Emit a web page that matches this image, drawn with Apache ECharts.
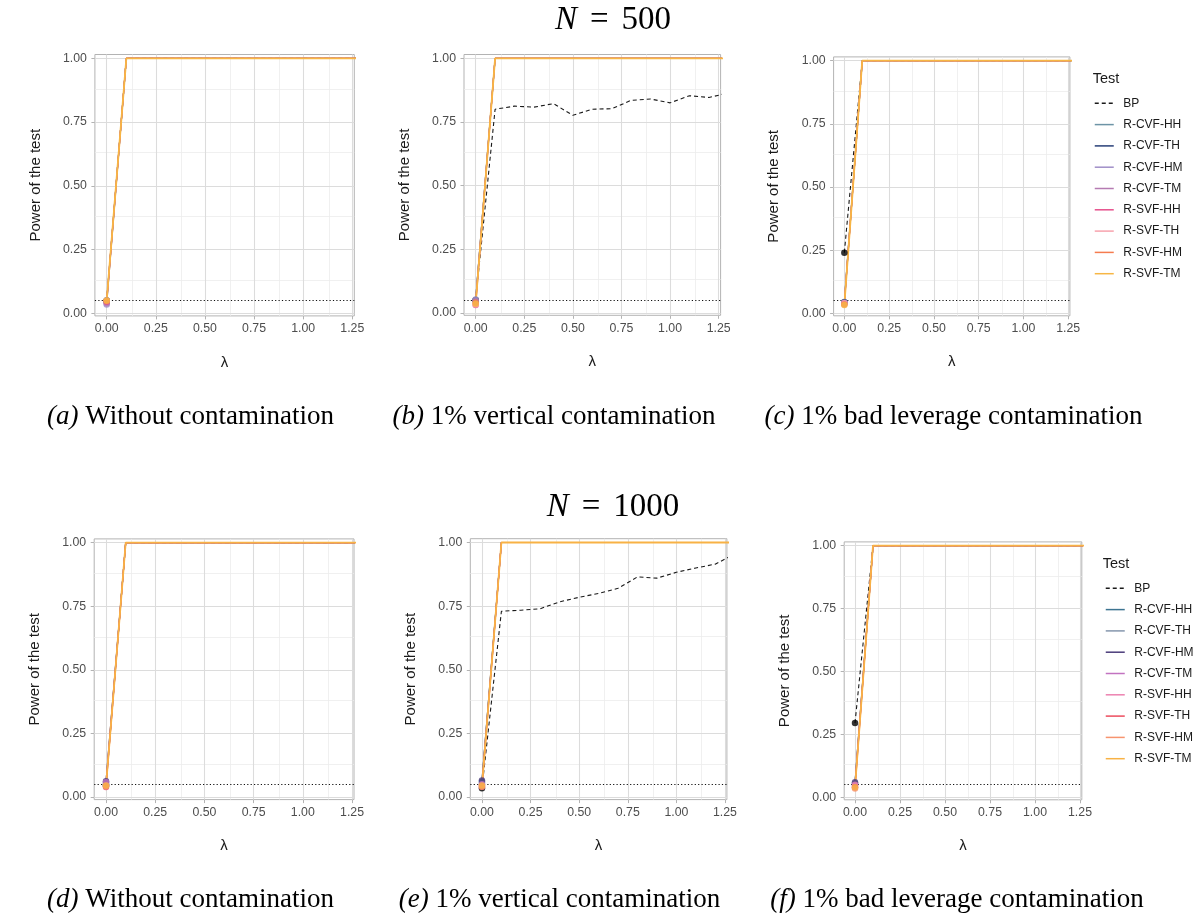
<!DOCTYPE html>
<html>
<head>
<meta charset="utf-8">
<script src="https://cdn.jsdelivr.net/npm/echarts@6/dist/echarts.min.js"></script>
<style>
  html, body { margin: 0; padding: 0; background: #ffffff; }
  #chart { width: 1196px; height: 920px; }
</style>
</head>
<body>
<div id="chart"></div>
<script>
// ---- data -------------------------------------------------------------
const lambda = [0, 0.1, 0.2, 0.3, 0.4, 0.5, 0.6, 0.7, 0.8, 0.9, 1.0, 1.1, 1.2, 1.3];

const testNames = ['BP', 'R-CVF-HH', 'R-CVF-TH', 'R-CVF-HM', 'R-CVF-TM',
                   'R-SVF-HH', 'R-SVF-TH', 'R-SVF-HM', 'R-SVF-TM'];

const colors500  = ['#1a1a1a', '#6d94a6', '#283f78', '#a08fc8', '#b57bb2',
                    '#e6508c', '#f7a2ad', '#f57c4f', '#f7b644'];
const colors1000 = ['#1a1a1a', '#3d7491', '#8597ad', '#4a3b7a', '#c273c0',
                    '#ec82b0', '#ec4c5e', '#f7946f', '#f8b245'];

// Breusch-Pagan test power along lambda
const bp500None  = [0.05, 1.00, 1.00, 1.00, 1.00, 1.00, 1.00, 1.00, 1.00, 1.00, 1.00, 1.00, 1.00, 1.00];
const bp500Vert  = [0.05, 0.800, 0.812, 0.808, 0.822, 0.776, 0.800, 0.802, 0.835, 0.840, 0.825, 0.853, 0.846, 0.864];
const bp500Lev   = [0.24, 1.00, 1.00, 1.00, 1.00, 1.00, 1.00, 1.00, 1.00, 1.00, 1.00, 1.00, 1.00, 1.00];
const bp1000None = [0.045, 1.00, 1.00, 1.00, 1.00, 1.00, 1.00, 1.00, 1.00, 1.00, 1.00, 1.00, 1.00, 1.00];
const bp1000Vert = [0.035, 0.730, 0.734, 0.740, 0.767, 0.785, 0.800, 0.820, 0.865, 0.860, 0.883, 0.900, 0.915, 0.955];
const bp1000Lev  = [0.295, 1.00, 1.00, 1.00, 1.00, 1.00, 1.00, 1.00, 1.00, 1.00, 1.00, 1.00, 1.00, 1.00];

// Robust tests: empirical size at lambda = 0 (order: R-CVF-HH ... R-SVF-TM)
const size500None  = [0.050, 0.045, 0.035, 0.040, 0.045, 0.050, 0.048, 0.050];
const size500Vert  = [0.050, 0.048, 0.052, 0.045, 0.030, 0.032, 0.040, 0.035];
const size500Lev   = [0.045, 0.044, 0.040, 0.042, 0.038, 0.040, 0.035, 0.033];
const size1000None = [0.050, 0.055, 0.062, 0.058, 0.045, 0.040, 0.042, 0.045];
const size1000Vert = [0.060, 0.055, 0.065, 0.050, 0.045, 0.040, 0.040, 0.045];
const size1000Lev  = [0.055, 0.050, 0.060, 0.045, 0.050, 0.040, 0.035, 0.040];

// Robust tests: power for lambda = 0.1 ... 1.3 (identical for all eight tests)
const robustPowerAfter = [1.00, 1.00, 1.00, 1.00, 1.00, 1.00, 1.00, 1.00, 1.00, 1.00, 1.00, 1.00, 1.00];

const nominalLevel = 0.05;

const xTickValues  = [0, 0.25, 0.5, 0.75, 1, 1.25];
const xMinorValues = [0.125, 0.375, 0.625, 0.875, 1.125];
const yTickValues  = [0, 0.25, 0.5, 0.75, 1];
const yMinorValues = [0.125, 0.375, 0.625, 0.875];

const captions = [
  ['(a)', ' Without contamination'],
  ['(b)', ' 1% vertical contamination'],
  ['(c)', ' 1% bad leverage contamination'],
  ['(d)', ' Without contamination'],
  ['(e)', ' 1% vertical contamination'],
  ['(f)', ' 1% bad leverage contamination']
];
const sampleSizes = ['500', '1000'];

// ---- layout -----------------------------------------------------------
const X_MIN = -0.06, X_MAX = 1.26, Y_MIN = -0.01, Y_MAX = 1.015;

const panels = [
  { left: 94.9,  top: 54.5,  width: 259.4, height: 261.4, bp: bp500None,  size: size500None,  group: 0 },
  { left: 464.0, top: 54.5,  width: 256.6, height: 260.8, bp: bp500Vert,  size: size500Vert,  group: 0 },
  { left: 833.6, top: 56.9,  width: 236.3, height: 258.9, bp: bp500Lev,   size: size500Lev,   group: 0 },
  { left: 94.2,  top: 538.9, width: 259.8, height: 260.7, bp: bp1000None, size: size1000None, group: 1 },
  { left: 470.3, top: 538.7, width: 256.6, height: 260.9, bp: bp1000Vert, size: size1000Vert, group: 1 },
  { left: 844.2, top: 541.9, width: 237.6, height: 257.9, bp: bp1000Lev,  size: size1000Lev,  group: 1 }
];

const SANS = '"Liberation Sans", Arial, Helvetica, sans-serif';
const SERIF = '"Liberation Serif", "Times New Roman", serif';

const majorGrid = { color: '#dcdcdc', width: 1.1, type: 'solid' };
const minorGrid = { color: '#ececec', width: 0.8, type: 'solid' };

const grids = [], xAxes = [], yAxes = [], series = [];

panels.forEach((p, gi) => {
  grids.push({
    left: p.left, top: p.top, width: p.width, height: p.height,
    show: true, borderColor: '#b3b3b3', borderWidth: 1, backgroundColor: '#ffffff',
    containLabel: false
  });

  xAxes.push({
    gridIndex: gi, type: 'value', min: X_MIN, max: X_MAX,
    splitLine: { show: false },
    axisLine: { show: false, onZero: false },
    axisTick: { show: true, customValues: xTickValues, length: 3.5, lineStyle: { color: '#b3b3b3', width: 1 } },
    axisLabel: {
      customValues: xTickValues, formatter: v => v.toFixed(2),
      color: '#4d4d4d', fontSize: 12.3, fontFamily: SANS, margin: 7
    },
    name: 'λ', nameLocation: 'middle', nameGap: 39,
    nameTextStyle: { color: '#1a1a1a', fontSize: 15, fontFamily: SANS, verticalAlign: 'top' }
  });

  yAxes.push({
    gridIndex: gi, type: 'value', min: Y_MIN, max: Y_MAX,
    splitLine: { show: false },
    axisLine: { show: false, onZero: false },
    axisTick: { show: true, customValues: yTickValues, length: 3.5, lineStyle: { color: '#b3b3b3', width: 1 } },
    axisLabel: {
      customValues: yTickValues, formatter: v => v.toFixed(2),
      color: '#4d4d4d', fontSize: 12.3, fontFamily: SANS, margin: 8
    },
    name: 'Power of the test', nameLocation: 'middle', nameGap: 52,
    nameTextStyle: { color: '#1a1a1a', fontSize: 15, fontFamily: SANS }
  });

  const suffix = '|' + sampleSizes[p.group];
  const cols = p.group === 0 ? colors500 : colors1000;

  // panel grid lines and the nominal 5% level
  const gridMarks = [];
  xMinorValues.forEach(v => gridMarks.push({ xAxis: v, lineStyle: minorGrid }));
  yMinorValues.forEach(v => gridMarks.push({ yAxis: v, lineStyle: minorGrid }));
  xTickValues.forEach(v => gridMarks.push({ xAxis: v, lineStyle: majorGrid }));
  yTickValues.forEach(v => gridMarks.push({ yAxis: v, lineStyle: majorGrid }));
  gridMarks.push({ yAxis: nominalLevel, lineStyle: { color: '#111111', width: 1.1, type: [1.2, 2.2] } });

  series.push({
    type: 'line', name: 'grid' + gi, xAxisIndex: gi, yAxisIndex: gi,
    data: [], symbol: 'none', silent: true, z: 1,
    markLine: {
      z: 1, silent: true, symbol: ['none', 'none'], animation: false,
      label: { show: false }, emphasis: { disabled: true },
      data: gridMarks
    }
  });

  // BP curve (dashed)
  series.push({
    type: 'line', name: testNames[0] + suffix, xAxisIndex: gi, yAxisIndex: gi,
    data: lambda.map((l, i) => [l, p.bp[i]]),
    symbol: 'none', z: 3,
    lineStyle: { color: cols[0], width: 1.1, type: [4, 3] },
    itemStyle: { color: cols[0] }
  });

  // robust test curves (the last one, R-SVF-TM, drawn on top)
  for (let k = 0; k < 8; k++) {
    const data = [[lambda[0], p.size[k]]];
    for (let j = 1; j < lambda.length; j++) data.push([lambda[j], robustPowerAfter[j - 1]]);
    series.push({
      type: 'line', name: testNames[k + 1] + suffix, xAxisIndex: gi, yAxisIndex: gi,
      data: data, symbol: 'none', z: 4,
      lineStyle: { color: cols[k + 1], width: k === 7 ? 1.8 : 1.2 },
      itemStyle: { color: cols[k + 1] }
    });
  }

  // markers at lambda = 0
  series.push({
    type: 'scatter', name: 'pt-bp-' + gi, xAxisIndex: gi, yAxisIndex: gi,
    data: [[lambda[0], p.bp[0]]], symbol: 'circle', symbolSize: 6.5, z: 5,
    itemStyle: { color: '#000000' }
  });
  for (let k = 0; k < 8; k++) {
    series.push({
      type: 'scatter', name: 'pt-' + k + '-' + gi, xAxisIndex: gi, yAxisIndex: gi,
      data: [[lambda[0], p.size[k]]], symbol: 'circle', symbolSize: 6.5, z: 5,
      itemStyle: { color: cols[k + 1] }
    });
  }
});

function legendFor(group, left, top) {
  const suffix = '|' + sampleSizes[group];
  return {
    orient: 'vertical', left: left, top: top, padding: 0,
    itemWidth: 19, itemHeight: 14, itemGap: 9.3,
    selectedMode: false,
    itemStyle: { opacity: 0 },
    lineStyle: { width: 1.5 },
    data: testNames.map(n => n + suffix),
    formatter: name => name.split('|')[0],
    textStyle: { color: '#1a1a1a', fontSize: 12, fontFamily: SANS, padding: [0, 0, 0, 4.5] }
  };
}

// titles, captions, legend headings
const graphics = [];
const headingY = [20, 507];
sampleSizes.forEach((n, i) => {
  graphics.push({
    type: 'text', x: 613, y: headingY[i],
    style: {
      text: '{n|N}{eq|=}{v|' + n + '}',
      rich: {
        n: { fontStyle: 'italic', fontSize: 33, fontFamily: SERIF, fill: '#000' },
        eq: { fontSize: 33, fontFamily: SERIF, fill: '#000', padding: [0, 13, 0, 13] },
        v: { fontSize: 33, fontFamily: SERIF, fill: '#000' }
      },
      align: 'center', verticalAlign: 'middle'
    }
  });
});
const captionPos = [[190.5, 417], [554, 417], [953.5, 417], [190.5, 900], [559.5, 900], [957, 900]];
captions.forEach((c, i) => {
  graphics.push({
    type: 'text', x: captionPos[i][0], y: captionPos[i][1],
    style: {
      text: '{i|' + c[0] + '}{r|' + c[1] + '}',
      rich: {
        i: { fontStyle: 'italic', fontSize: 27, fontFamily: SERIF, fill: '#000' },
        r: { fontSize: 27, fontFamily: SERIF, fill: '#000' }
      },
      align: 'center', verticalAlign: 'middle'
    }
  });
});
[[1092.7, 79], [1102.7, 564]].forEach(pos => {
  graphics.push({
    type: 'text', x: pos[0], y: pos[1],
    style: { text: 'Test', fontSize: 14.5, fontFamily: SANS, fill: '#1a1a1a', align: 'left', verticalAlign: 'middle' }
  });
});

const chart = echarts.init(document.getElementById('chart'), null, { renderer: 'canvas' });
chart.setOption({
  animation: false,
  backgroundColor: '#ffffff',
  grid: grids,
  xAxis: xAxes,
  yAxis: yAxes,
  legend: [legendFor(0, 1094, 97.3), legendFor(1, 1105, 582.3)],
  graphic: graphics,
  series: series
});
</script>
</body>
</html>
